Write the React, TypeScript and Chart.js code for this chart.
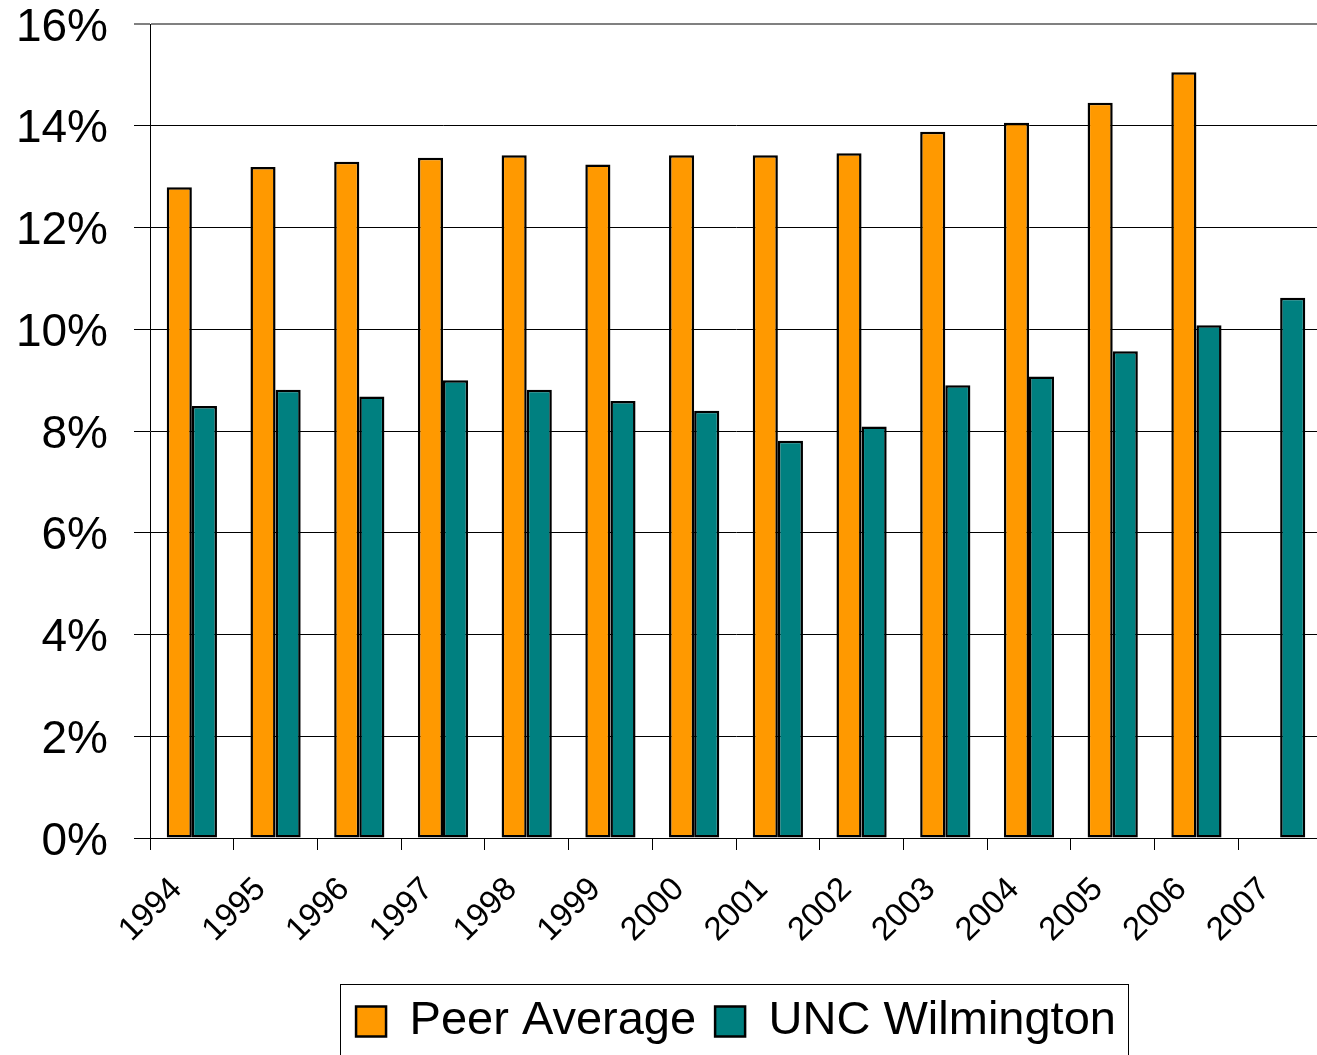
import React, { useEffect, useRef } from "react";
import { Chart, registerables } from "chart.js";

Chart.register(...registerables);

const years = ["1994", "1995", "1996", "1997", "1998", "1999", "2000", "2001", "2002", "2003", "2004", "2005", "2006", "2007"];
const peerAverage = [12.79, 13.19, 13.29, 13.37, 13.42, 13.24, 13.42, 13.42, 13.46, 13.88, 14.06, 14.45, 15.05, null];
const uncWilmington = [8.49, 8.81, 8.68, 9.0, 8.81, 8.59, 8.4, 7.81, 8.09, 8.9, 9.07, 9.57, 10.08, 10.62];
const seriesNames = ["Peer Average", "UNC Wilmington"];
const yTicks = [0, 2, 4, 6, 8, 10, 12, 14, 16];

const FONT = "'Liberation Sans', Arial, Helvetica, sans-serif";

const legendBorder = {
  id: "legendBorder",
  afterDraw(chart: any) {
    const lg = chart.legend;
    const hb = lg && lg.legendHitBoxes;
    if (!hb || !hb.length) return;
    const first = hb[0];
    const last = hb[hb.length - 1];
    const x1 = Math.round(first.left - 16);
    const x2 = Math.round(last.left + last.width + 12);
    const cy = first.top + first.height / 2;
    const top = Math.round(cy - 38);
    const ctx = chart.ctx;
    ctx.save();
    ctx.strokeStyle = "#000";
    ctx.lineWidth = 1;
    ctx.strokeRect(x1 + 0.5, top + 0.5, x2 - x1, chart.height - top + 10);
    ctx.restore();
  },
};

export default function App() {
  const ref = useRef<HTMLCanvasElement>(null);
  useEffect(() => {
    if (!ref.current) return;
    const chart = new Chart(ref.current, {
      type: "bar",
      data: {
        labels: years,
        datasets: [
          {
            label: seriesNames[0],
            data: peerAverage,
            backgroundColor: "#FF9900",
            borderColor: "#000",
            borderWidth: 2.5,
            borderSkipped: false,
            categoryPercentage: 0.6,
            barPercentage: 1,
          },
          {
            label: seriesNames[1],
            data: uncWilmington,
            backgroundColor: "#008080",
            borderColor: "#000",
            borderWidth: 2.5,
            borderSkipped: false,
            categoryPercentage: 0.6,
            barPercentage: 1,
          },
        ],
      },
      options: {
        responsive: false,
        devicePixelRatio: 1,
        animation: false,
        layout: { padding: { top: 0, left: 0, right: 0, bottom: 0 } },
        plugins: {
          legend: {
            position: "bottom",
            fullSize: false,
            labels: {
              boxWidth: 30,
              boxHeight: 30,
              padding: 19,
              color: "#000",
              font: { family: FONT, size: 47 },
            },
          },
          tooltip: { enabled: false },
        },
        scales: {
          x: {
            offset: true,
            grid: {
              display: true,
              drawOnChartArea: false,
              offset: true,
              tickLength: 12,
              color: "#000",
              lineWidth: 1,
            },
            border: { display: true, color: "#000", width: 1 },
            ticks: {
              minRotation: 45,
              maxRotation: 45,
              autoSkip: false,
              padding: 20,
              labelOffset: -15,
              color: "#000",
              font: { family: FONT, size: 33 },
            },
            afterFit: (s: any) => {
              s.height = 141;
              s.paddingLeft = 0;
              s.paddingRight = 0;
            },
          },
          y: {
            min: 0,
            max: 16,
            afterBuildTicks: (s: any) => {
              s.ticks = yTicks.map((v) => ({ value: v }));
            },
            grid: {
              tickLength: 16,
              color: (c: any) => (c.tick && c.tick.value === 16 ? "#808080" : "#000"),
              lineWidth: (c: any) => (c.tick && c.tick.value === 16 ? 2 : 1),
            },
            border: { display: true, color: "#000", width: 1 },
            ticks: {
              padding: 26,
              labelOffset: 4,
              color: "#000",
              font: { family: FONT, size: 46, lineHeight: 1 },
              callback: (v: any) => v + "%",
            },
            afterFit: (s: any) => {
              s.width = 150;
              s.paddingTop = 24;
              s.paddingBottom = 0;
            },
          },
        },
      },
      plugins: [legendBorder],
    });
    return () => chart.destroy();
  }, []);
  return (
    <div style={{ position: "fixed", left: 0, top: 0, width: 1317, height: 1055, overflow: "hidden", background: "#fff" }}>
      <canvas ref={ref} width={1322} height={1055} style={{ display: "block" }} />
    </div>
  );
}
